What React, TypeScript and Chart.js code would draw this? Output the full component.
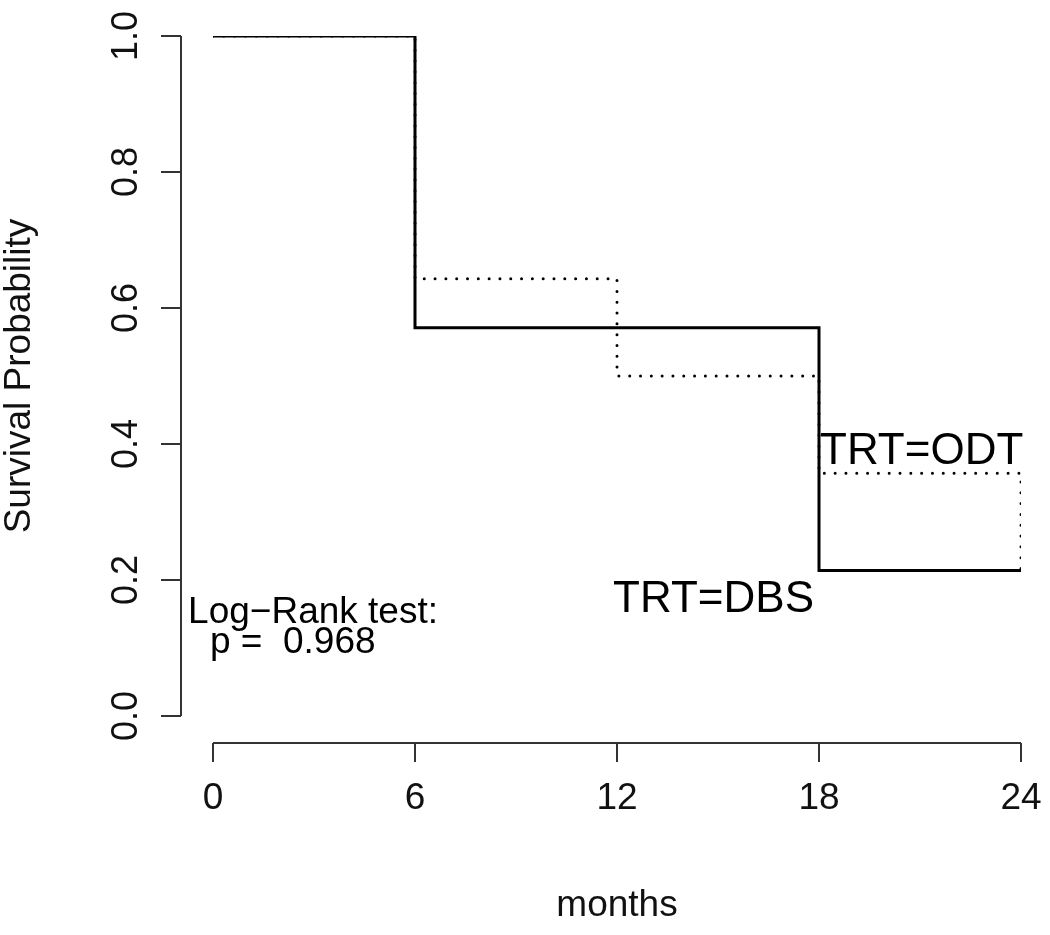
import React, { useEffect, useRef } from "react";
import { Chart, registerables } from "chart.js";

Chart.register(...registerables);

// Kaplan–Meier step data (months, survival probability)
const dbsMonths = [0, 6, 18, 24];
const dbsSurvival = [1.0, 0.571, 0.214, 0.214];
const odtMonths = [0, 6, 12, 18, 24];
const odtSurvival = [1.0, 0.643, 0.5, 0.357, 0.214];

const xTicks = [0, 6, 12, 18, 24];
const yTicks = [0, 0.2, 0.4, 0.6, 0.8, 1.0];
const yTickLabels = ["0.0", "0.2", "0.4", "0.6", "0.8", "1.0"];

const xTitle = "months";
const yTitle = "Survival Probability";
const odtLabel = "TRT=ODT";
const dbsLabel = "TRT=DBS";
const testLines = ["Log\u2212Rank test:", "  p =  0.968"];

const FONT = "Arial, 'Liberation Sans', Helvetica, sans-serif";

const rAxesPlugin = {
  id: "rAxes",
  afterDraw(chart: any) {
    const ctx = chart.ctx as CanvasRenderingContext2D;
    const xs = chart.scales.x;
    const ys = chart.scales.y;
    const area = chart.chartArea;
    ctx.save();
    ctx.strokeStyle = "#333";
    ctx.fillStyle = "#111";
    ctx.lineWidth = 2;

    // y axis (detached, R style)
    const axX = area.left - 32;
    ctx.beginPath();
    ctx.moveTo(axX, ys.getPixelForValue(0));
    ctx.lineTo(axX, ys.getPixelForValue(1));
    yTicks.forEach((v) => {
      const py = ys.getPixelForValue(v);
      ctx.moveTo(axX, py);
      ctx.lineTo(axX - 20, py);
    });
    ctx.stroke();
    ctx.font = `36px ${FONT}`;
    ctx.textAlign = "center";
    ctx.textBaseline = "middle";
    yTicks.forEach((v, i) => {
      const py = ys.getPixelForValue(v);
      ctx.save();
      ctx.translate(axX - 54, py);
      ctx.rotate(-Math.PI / 2);
      ctx.fillText(yTickLabels[i], 0, 0);
      ctx.restore();
    });

    // x axis
    const axY = area.bottom + 27;
    ctx.beginPath();
    ctx.moveTo(xs.getPixelForValue(0), axY);
    ctx.lineTo(xs.getPixelForValue(24), axY);
    xTicks.forEach((v) => {
      const px = xs.getPixelForValue(v);
      ctx.moveTo(px, axY);
      ctx.lineTo(px, axY + 19);
    });
    ctx.stroke();
    ctx.font = `37px ${FONT}`;
    xTicks.forEach((v) => {
      ctx.fillText(String(v), xs.getPixelForValue(v), axY + 56);
    });

    // axis titles
    ctx.font = `37px ${FONT}`;
    ctx.fillText(xTitle, (area.left + area.right) / 2, area.bottom + 190);
    ctx.save();
    ctx.translate(20, (area.top + area.bottom) / 2);
    ctx.rotate(-Math.PI / 2);
    ctx.fillText(yTitle, 0, 0);
    ctx.restore();

    // annotations
    ctx.fillStyle = "#000";
    ctx.textBaseline = "alphabetic";
    ctx.font = `44px ${FONT}`;
    ctx.textAlign = "left";
    ctx.fillText(odtLabel, xs.getPixelForValue(18) + 1, ys.getPixelForValue(0.37));
    ctx.textAlign = "right";
    ctx.fillText(dbsLabel, xs.getPixelForValue(18) - 5, ys.getPixelForValue(0.153));

    ctx.font = `37px ${FONT}`;
    ctx.textAlign = "left";
    ctx.fillText(testLines[0], xs.getPixelForValue(-0.74), ys.getPixelForValue(0.137));
    ctx.fillText(testLines[1], xs.getPixelForValue(-0.70), ys.getPixelForValue(0.093));
    ctx.restore();
  },
};

export default function App() {
  const ref = useRef<HTMLCanvasElement | null>(null);
  useEffect(() => {
    if (!ref.current) return;
    const chart = new Chart(ref.current, {
      type: "line",
      data: {
        datasets: [
          {
            label: "DBS",
            data: dbsMonths.map((m, i) => ({ x: m, y: dbsSurvival[i] })),
            borderColor: "#000",
            borderWidth: 3,
            stepped: "before",
            pointRadius: 0,
            fill: false,
            order: 0,
          },
          {
            label: "ODT",
            data: odtMonths.map((m, i) => ({ x: m, y: odtSurvival[i] })),
            borderColor: "#000",
            borderWidth: 3,
            borderDash: [0.01, 10.8],
            borderCapStyle: "round",
            stepped: "before",
            pointRadius: 0,
            fill: false,
            order: 1,
          },
        ],
      },
      options: {
        responsive: false,
        animation: false,
        devicePixelRatio: 1,
        layout: { padding: { left: 213, right: 29, top: 36, bottom: 219 } },
        scales: {
          x: { type: "linear", min: 0, max: 24, display: false },
          y: { type: "linear", min: 0, max: 1, display: false },
        },
        plugins: {
          legend: { display: false },
          tooltip: { enabled: false },
        },
      },
      plugins: [rAxesPlugin],
    });
    return () => chart.destroy();
  }, []);
  return (
    <div style={{ position: "absolute", left: 0, top: 0, width: 1050, height: 935, background: "#fff" }}>
      <canvas ref={ref} width={1050} height={935} style={{ width: 1050, height: 935 }} />
    </div>
  );
}
